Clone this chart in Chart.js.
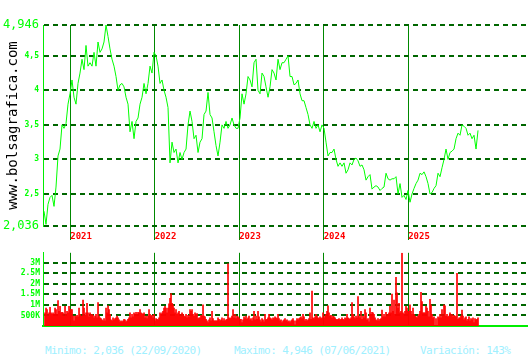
<!DOCTYPE html>
<html>
<head>
<meta charset="utf-8">
<script src="https://cdn.jsdelivr.net/npm/chart.js@4"></script>
<style>
body { margin: 0; background: #fff; width: 530px; height: 360px; overflow: hidden; position: relative; }
#precio { position: absolute; left: 0; top: 0; }
#volumen { position: absolute; left: 0; top: 245px; }
#pie { position: absolute; left: 0; top: 344px; width: 530px; font: 11px "DejaVu Sans Mono", monospace; color: #a0f0ff; letter-spacing: -0.6px; white-space: pre; }
#pie span { position: absolute; top: 0; }
</style>
</head>
<body>
<canvas id="precio" width="530" height="245"></canvas>
<canvas id="volumen" width="530" height="90"></canvas>
<div id="pie"><span style="left:45px">Minimo: 2,036 (22/09/2020)</span><span style="left:234px">Maximo: 4,946 (07/06/2021)</span><span style="left:420px">Variación: 143%</span></div>
<script>
// años marcados en el eje x
const anios = [2021, 2022, 2023, 2024, 2025];

// cotización (un dato cada ~8,6 días desde sep 2020)
const inicioPrecio = 2020.690;
const pasoPrecio = 0.02367;
const precios = [
    2.25, 2.06, 2.35, 2.45, 2.48, 2.32, 2.6, 3.05, 3.15, 3.5,
    3.45, 3.52, 3.8, 3.95, 4.15, 3.9, 3.8, 4.1, 4.25, 4.45,
    4.3, 4.65, 4.35, 4.4, 4.35, 4.55, 4.35, 4.7, 4.55, 4.6,
    4.7, 4.946, 4.78, 4.6, 4.45, 4.35, 4.2, 4.0, 4.08, 4.1,
    4.05, 3.9, 3.8, 3.4, 3.55, 3.3, 3.55, 3.6, 3.8, 3.9,
    4.1, 3.95, 4.1, 4.35, 4.25, 4.55, 4.5, 4.35, 4.1, 4.15,
    4.0, 3.9, 3.75, 2.95, 3.25, 3.1, 3.15, 2.95, 3.1, 3.0,
    3.1, 3.15, 3.5, 3.7, 3.55, 3.3, 3.35, 3.1, 3.25, 3.3,
    3.65, 3.7, 3.97, 3.65, 3.6, 3.4, 3.2, 3.05, 3.25, 3.5,
    3.45, 3.55, 3.45, 3.5, 3.6, 3.5, 3.45, 3.45, 3.6, 3.95,
    3.8, 3.95, 4.2, 4.15, 4.05, 4.4, 4.45, 4.0, 3.95, 4.25,
    4.2, 4.05, 3.9, 4.05, 4.3, 4.25, 4.15, 4.45, 4.3, 4.4,
    4.4, 4.45, 4.5, 4.2, 4.2, 4.08, 4.1, 4.15, 3.95, 3.85,
    3.85, 3.75, 3.65, 3.5, 3.45, 3.55, 3.45, 3.5, 3.4, 3.5,
    3.45, 3.25, 3.05, 3.1, 3.1, 3.15, 3.0, 2.9, 2.95, 2.9,
    2.95, 2.8, 2.85, 2.95, 2.92, 3.0, 3.02, 2.98, 2.9, 2.92,
    2.85, 2.7, 2.75, 2.78, 2.57, 2.6, 2.62, 2.6, 2.55, 2.58,
    2.6, 2.8, 2.72, 2.7, 2.72, 2.72, 2.75, 2.5, 2.65, 2.45,
    2.48, 2.42, 2.55, 2.38, 2.5, 2.58, 2.65, 2.7, 2.8, 2.78,
    2.82, 2.75, 2.65, 2.5, 2.52, 2.58, 2.62, 2.8, 2.75, 2.88,
    3.0, 3.15, 3.0, 3.1, 3.12, 3.15, 3.3, 3.38, 3.35, 3.5,
    3.48, 3.45, 3.35, 3.38, 3.3, 3.35, 3.15, 3.42
];
const ticksPrecio = [2.036, 2.5, 3, 3.5, 4, 4.5, 4.946];

// volumen en miles de títulos (un dato cada ~4,3 días)
const inicioVolumen = 2020.702;
const pasoVolumen = 0.011834;
const volumen = [
    620, 850, 780, 470, 620, 880, 620, 550, 620, 550,
    850, 780, 550, 1200, 700, 930, 620, 650, 620, 470,
    930, 550, 700, 620, 930, 780, 780, 780, 470, 240,
    470, 440, 500, 440, 850, 550, 470, 470, 1230, 850,
    500, 620, 1080, 620, 440, 620, 500, 550, 500, 390,
    470, 550, 390, 1110, 470, 390, 350, 290, 240, 350,
    240, 850, 620, 960, 780, 550, 290, 240, 390, 290,
    350, 390, 470, 390, 290, 200, 240, 200, 240, 320,
    290, 200, 240, 320, 390, 620, 390, 550, 440, 620,
    550, 650, 550, 650, 620, 780, 620, 590, 550, 620,
    390, 470, 350, 470, 780, 550, 470, 500, 390, 550,
    240, 350, 320, 290, 390, 620, 550, 620, 700, 850,
    930, 850, 620, 850, 1050, 1310, 1540, 1080, 1000, 850,
    620, 780, 550, 620, 700, 550, 470, 620, 550, 470,
    440, 550, 390, 500, 440,
    780, 700, 780, 550, 470, 620, 550, 590, 350, 390,
    390, 500, 470, 1000, 470, 440, 320, 240, 160, 290,
    390, 240, 700, 350, 240, 240, 240, 240, 390, 320,
    240, 290, 390, 240, 350, 240, 290, 320, 2950, 390,
    350, 390, 470, 780, 390, 550, 350, 470, 440, 390,
    320, 320, 160, 290, 440, 350, 470, 320, 390, 470,
    290, 350, 240, 390, 700, 290, 470, 320, 700, 440,
    290, 200, 350, 290, 200, 550, 290, 320, 390, 550,
    390, 350, 290, 390, 350, 440, 390, 350, 550, 350,
    240, 290, 160, 240, 290, 350, 240, 290, 200, 240,
    160, 240, 290, 350, 240, 60, 240, 350, 290, 350,
    390, 440, 350, 550, 440, 240, 320, 240, 290, 350,
    620, 320, 1660, 390, 350, 440, 550, 470, 390, 350,
    440, 350, 390, 620, 390, 470, 550, 700, 960, 620,
    470, 500, 390, 470, 440,
    390, 320, 290, 320, 350, 290, 320, 390, 320, 290,
    390, 350, 550, 390, 350, 320, 390, 1110, 550, 440,
    350, 470, 390, 1390, 470, 390, 700, 320, 470, 390,
    780, 620, 290, 350, 200, 850, 550, 650, 620, 550,
    390, 290, 240, 350, 240, 320, 350, 750, 440, 550,
    440, 650, 470, 550, 620, 930, 620, 1510, 700, 1230,
    550, 2310, 1570, 850, 1080, 620, 700, 3460, 620, 550,
    700, 930, 850, 700, 700, 1000, 700, 550, 850, 550,
    470, 440, 390, 470, 550, 700, 1600, 1160, 620, 620,
    620, 930, 850, 700, 440, 1260, 1000, 550, 390, 440,
    30, 350, 30, 440, 390, 550, 390, 780, 470, 1000,
    960, 470, 550, 440, 470, 620, 470, 550, 440, 500,
    470, 440, 2500, 320, 390, 390, 470, 750, 470, 290,
    390, 440, 240, 320, 440, 240, 350, 290, 390, 160,
    350, 290, 320, 390
];
const ticksVolumen = [500, 1000, 1500, 2000, 2500, 3000];
const etiquetasVolumen = ['500K', '1M', '1.5M', '2M', '2.5M', '3M'];

const fuente = '"DejaVu Sans Mono", monospace';
const ejeXmin = 2020.678;
const ejeXmax = 2026.406;

// Grafico de cotizacion
new Chart(document.getElementById("precio"), {
    type: 'line',
    data: {
        datasets: [
            {
                data: precios.map((v, i) => ({ x: inicioPrecio + i * pasoPrecio, y: v })),
                borderColor: '#00ff00',
                borderWidth: 1,
                pointRadius: 0,
                tension: 0
            }
        ]
    },
    options: {
        responsive: false,
        animation: false,
        layout: { padding: { top: 25, right: 3, left: 0, bottom: 0 } },
        plugins: { legend: { display: false }, tooltip: { enabled: false } },
        scales: {
            x: {
                type: 'linear',
                min: ejeXmin,
                max: ejeXmax,
                afterBuildTicks: s => { s.ticks = anios.map(v => ({ value: v })); },
                afterFit: s => { s.height = 19; },
                grid: { color: '#008800', lineWidth: 1, tickLength: 14, tickColor: '#008800' },
                border: { display: false },
                ticks: {
                    color: '#ff0000',
                    font: { family: fuente, size: 9, weight: 'bold' },
                    align: 'start',
                    padding: -9,
                    maxRotation: 0,
                    autoSkip: false,
                    callback: v => String(v)
                }
            },
            y: {
                min: 2.036,
                max: 4.946,
                afterBuildTicks: s => { s.ticks = ticksPrecio.map(v => ({ value: v })); },
                afterFit: s => { s.width = 43; },
                grid: { color: '#006600', lineWidth: 2, drawTicks: false },
                border: { display: true, color: '#00ee00', width: 1, dash: [5, 4] },
                ticks: {
                    color: '#00ff00',
                    padding: 4,
                    font: c => {
                        const extremo = c.tick && (c.tick.value === 2.036 || c.tick.value === 4.946);
                        return { family: fuente, size: extremo ? 12 : 8, weight: extremo ? 'normal' : 'bold' };
                    },
                    callback: v => String(v).replace('.', ',')
                },
                title: {
                    display: true,
                    text: 'www.bolsagrafica.com',
                    color: '#000000',
                    font: { family: fuente, size: 14 },
                    padding: { top: 5, bottom: 0 }
                }
            }
        }
    }
});

// Grafico de volumen
new Chart(document.getElementById("volumen"), {
    type: 'bar',
    data: {
        datasets: [
            {
                data: volumen.map((v, i) => ({ x: inicioVolumen + i * pasoVolumen, y: v })),
                backgroundColor: '#ff0000',
                borderWidth: 0,
                barPercentage: 1,
                categoryPercentage: 1
            }
        ]
    },
    options: {
        responsive: false,
        animation: false,
        layout: { padding: { top: 5, right: 3, left: 0, bottom: 0 } },
        plugins: { legend: { display: false }, tooltip: { enabled: false } },
        scales: {
            x: {
                type: 'linear',
                offset: false,
                min: ejeXmin,
                max: ejeXmax,
                afterBuildTicks: s => { s.ticks = anios.map(v => ({ value: v })); },
                afterFit: s => { s.height = 9; },
                grid: { color: '#008800', lineWidth: 1, drawTicks: false, offset: false },
                border: { display: true, color: '#00ee00', width: 2 },
                ticks: { display: false }
            },
            y: {
                min: 0,
                max: 3470,
                afterBuildTicks: s => { s.ticks = ticksVolumen.map(v => ({ value: v })); },
                afterFit: s => { s.width = 43; },
                grid: { color: '#006600', lineWidth: 2, drawTicks: false },
                border: { display: true, color: '#00ee00', width: 1, dash: [5, 4] },
                ticks: {
                    color: '#00ff00',
                    padding: 3,
                    font: { family: fuente, size: 8, weight: 'bold' },
                    callback: v => etiquetasVolumen[ticksVolumen.indexOf(v)]
                }
            }
        }
    }
});
</script>
</body>
</html>
